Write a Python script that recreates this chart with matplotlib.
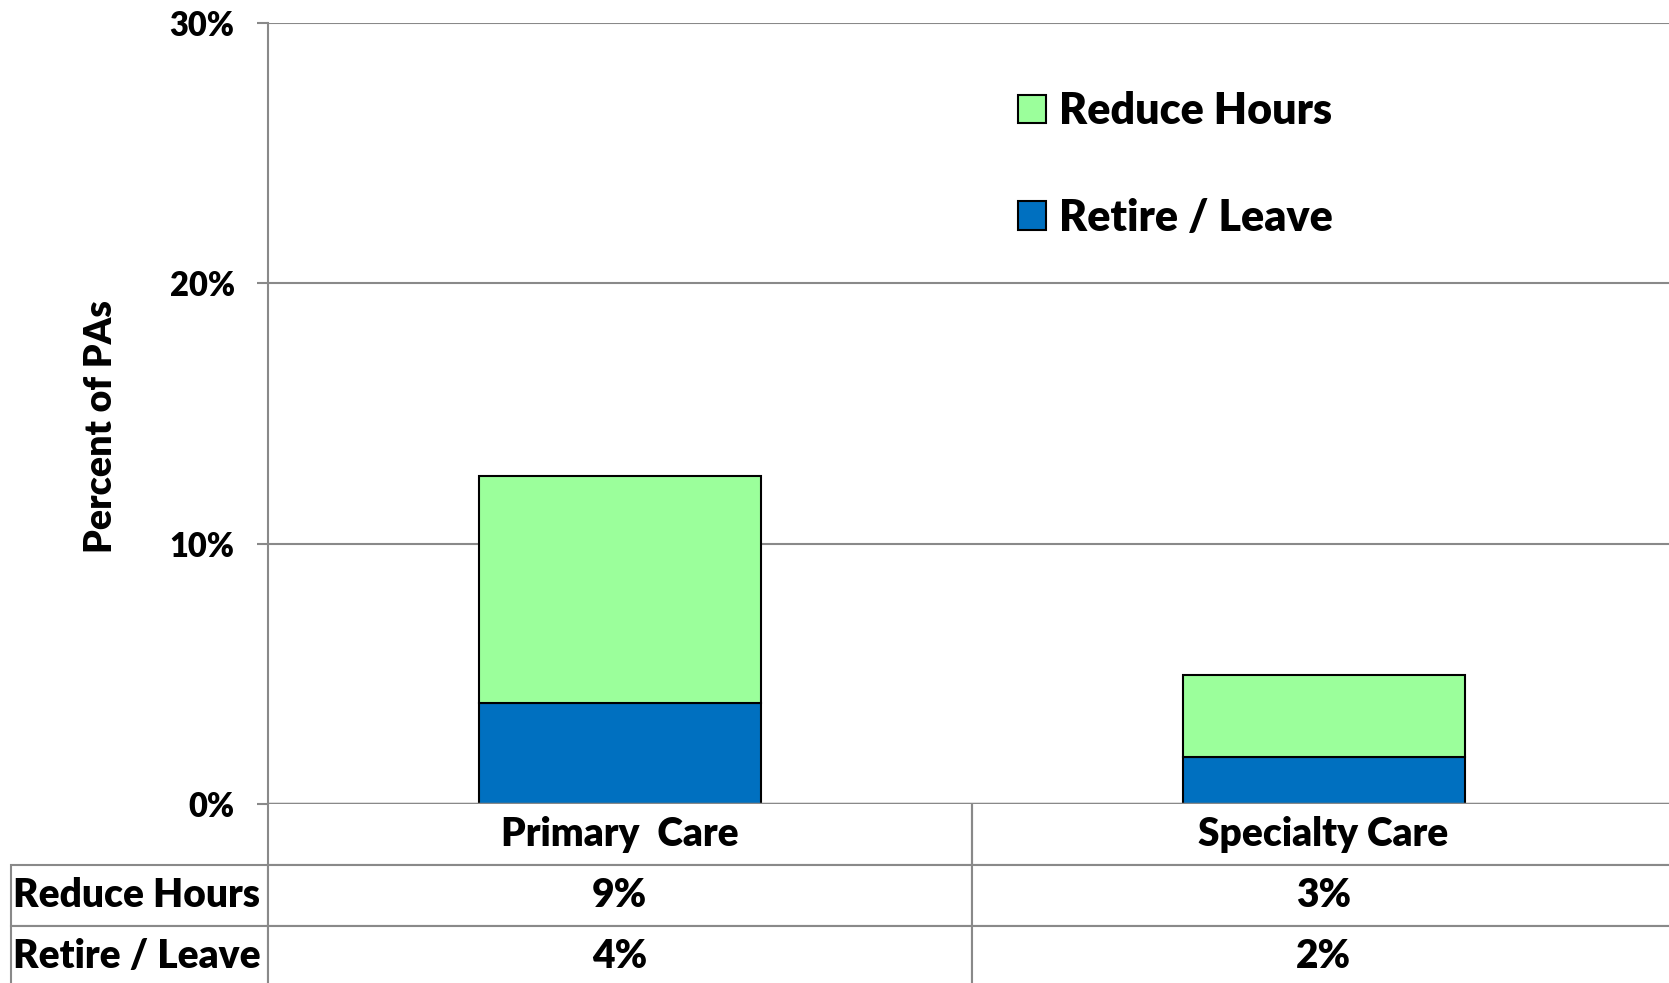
import matplotlib.pyplot as plt
import numpy as np

plt.rcParams['font.family'] = ['Lato', 'DejaVu Sans']
plt.rcParams['font.weight'] = 'heavy'

categories = ['Primary  Care', 'Specialty Care']
retire_leave = [3.85, 1.8]
reduce_hours = [8.75, 3.15]
table_rows = ['Reduce Hours', 'Retire / Leave']
table_vals = [['9%', '3%'], ['4%', '2%']]
yticks = [0, 10, 20, 30]

green = '#9BFF9B'
blue = '#0070C0'
gray = '#898989'

fig = plt.figure(figsize=(16.69, 9.83), dpi=100)
ax = fig.add_axes([268 / 1669, 1 - 803.6 / 983, 1 - 268 / 1669, (803.6 - 23.4) / 983])

x = np.arange(len(categories))
b1 = ax.bar(x, retire_leave, width=0.4, color=blue, edgecolor='black', linewidth=1.5, zorder=3)
b2 = ax.bar(x, reduce_hours, bottom=retire_leave, width=0.4, color=green, edgecolor='black',
            linewidth=1.5, zorder=3)

ax.set_xlim(-0.5, 1.49)
ax.set_ylim(0, 30)
ax.set_yticks(yticks)
ax.set_yticklabels([f'{v}%' for v in yticks], fontsize=23.5, fontweight='heavy')
ax.set_xticks([])
ax.tick_params(axis='y', length=8, width=1.5, color=gray, pad=16)
ax.grid(axis='y', color=gray, linewidth=1.5, zorder=0)
for s in ['top', 'right', 'bottom']:
    ax.spines[s].set_visible(False)
ax.spines['left'].set_color(gray)
ax.spines['left'].set_linewidth(1.5)
ax.axhline(0, color=gray, linewidth=2.5, zorder=4)
ax.set_ylabel('Percent of PAs', fontsize=27, fontweight='heavy')
ax.yaxis.set_label_coords(-0.107, 0.483)

ax.legend([b2, b1], ['Reduce Hours', 'Retire / Leave'], loc='upper left',
          bbox_to_anchor=(0.508, 0.963), frameon=False, fontsize=31,
          handlelength=0.65, handleheight=0.65, handletextpad=0.3, labelspacing=1.55)

# data table under the axis
left = (10.6 - 268) / 1401
col_w = [257.4, 703.6, 703.6]
tbl = ax.table(cellText=[[table_rows[i]] + table_vals[i] for i in range(len(table_rows))],
               colLabels=[''] + categories, colWidths=col_w, cellLoc='center',
               bbox=[left, -0.2346, sum(col_w) / 1401, 0.2346])
tbl.auto_set_font_size(False)
for (r, c), cell in tbl.get_celld().items():
    cell.set_edgecolor(gray)
    cell.set_linewidth(1.5)
    cell.get_text().set_fontsize(28)
    cell.get_text().set_fontweight('heavy')
    if r == 0:
        cell.visible_edges = '' if c == 0 else 'BLR'
    if c == 0 and r > 0:
        cell.get_text().set_ha('left')
        cell._loc = 'left'
        cell.PAD = 0.01

fig.savefig('out.png', dpi=100)
